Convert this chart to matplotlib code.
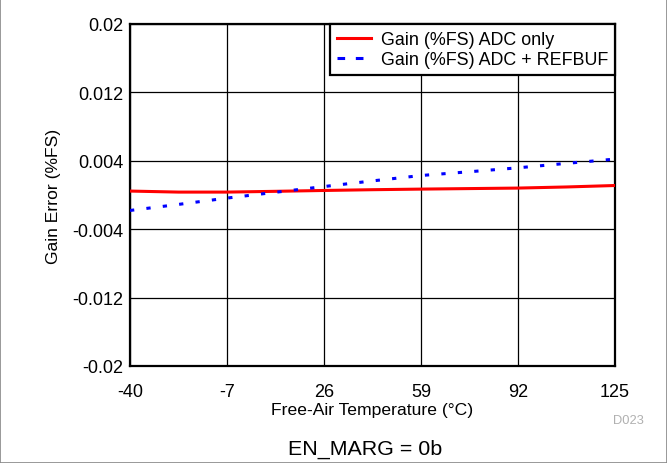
import matplotlib
matplotlib.use("Agg")
import matplotlib.pyplot as plt
from matplotlib.lines import Line2D
from matplotlib.patches import Rectangle

plt.rcParams["font.family"] = ["Liberation Sans", "DejaVu Sans"]
plt.rcParams["axes.unicode_minus"] = False

# data
temp = [-40, -23.5, -7, 9.5, 26, 42.5, 59, 75.5, 92, 108.5, 125]
gain_adc = [0.00046, 0.00034, 0.00034, 0.00043, 0.00053, 0.00062, 0.00069, 0.00075, 0.00081, 0.00094, 0.00111]
gain_refbuf = [-0.00181, -0.00110, -0.00036, 0.00032, 0.00099, 0.00165, 0.00228, 0.00272, 0.00318, 0.00370, 0.00420]
xticks = [-40, -7, 26, 59, 92, 125]
yticks = [-0.02, -0.012, -0.004, 0.004, 0.012, 0.02]
ytick_labels = ["-0.02", "-0.012", "-0.004", "0.004", "0.012", "0.02"]
labels = ["Gain (%FS) ADC only", "Gain (%FS) ADC + REFBUF"]

fig = plt.figure(figsize=(6.67, 4.64), dpi=100)
ax = fig.add_axes([130 / 667, 1 - 367 / 464, 485 / 667, 342 / 464])

ax.plot(temp, gain_adc, color="#ff0000", lw=2.2, zorder=3)
ax.plot(temp, gain_refbuf, color="#0000ff", lw=2.2, dashes=(1.4, 4.0), zorder=3)

ax.set_xlim(-40, 125)
ax.set_ylim(-0.02, 0.02)
ax.set_xticks(xticks)
ax.set_yticks(yticks)
ax.set_yticklabels(ytick_labels)
ax.tick_params(labelsize=13, length=0)
ax.tick_params(axis="x", pad=12.5)
ax.tick_params(axis="y", pad=5)
ax.grid(True, color="black", lw=0.9)
for s in ax.spines.values():
    s.set_linewidth(1.6)

ax.set_xlabel("Free-Air Temperature (\u00b0C)", fontsize=12.6, labelpad=1)
ax.set_ylabel("Gain Error (%FS)", fontsize=12.6, labelpad=8)

handles = [Line2D([], [], color="#ff0000", lw=2.2),
           Line2D([], [], color="#0000ff", lw=2.2, dashes=(2.5, 3.5))]
leg = ax.legend(handles, labels, loc="upper right", fontsize=12.9, frameon=True,
                fancybox=False, borderaxespad=0, handlelength=1.9, handletextpad=0.55,
                borderpad=0.4, labelspacing=0.15)
leg.get_frame().set_edgecolor("black")
leg.get_frame().set_linewidth(1.6)
leg.get_frame().set_alpha(1)

fig.text(628 / 667, 1 - 424 / 464, "D023", fontsize=9.3, color="#b0b0b0", ha="center", va="baseline")
fig.text(365 / 667, 1 - 455 / 464, "EN_MARG = 0b", fontsize=15.4, ha="center", va="baseline")

fig.patches.append(Rectangle((0, 0), 1, 1, transform=fig.transFigure, fill=False,
                             edgecolor="#888888", lw=1.2))

fig.savefig("out.png", dpi=100)
